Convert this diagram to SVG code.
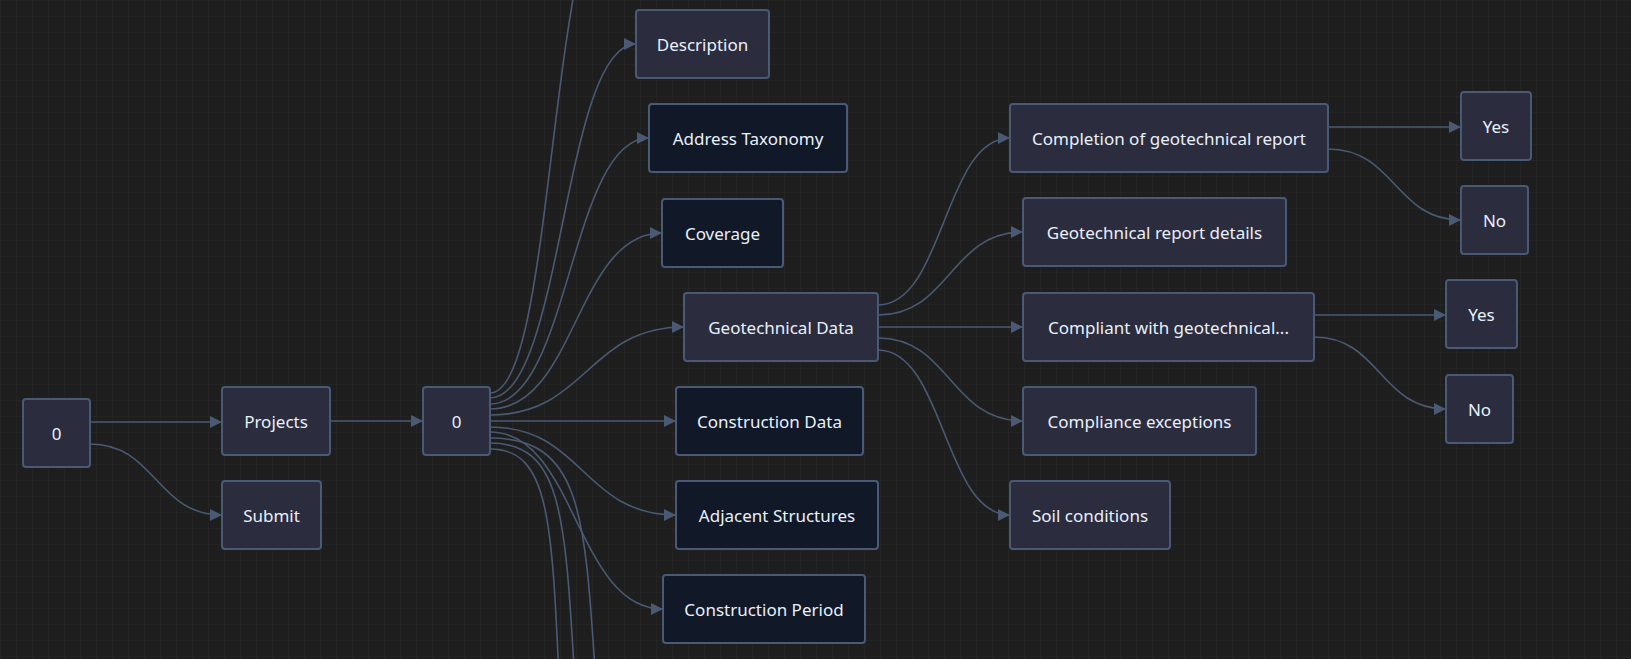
<svg xmlns="http://www.w3.org/2000/svg" width="1631" height="659" viewBox="0 0 1631 659">
<defs>
<pattern id="grid" width="16" height="16" patternUnits="userSpaceOnUse"><path d="M16 0H0V16" fill="none" stroke="#282828" stroke-width="1"/></pattern>
<marker id="arr" viewBox="0 0 12 12" refX="12" refY="6" markerWidth="12" markerHeight="12" markerUnits="userSpaceOnUse" orient="auto"><path d="M0 0L12 6L0 12z" fill="#4a5a74"/></marker>
<style>
.n rect{fill:#2b2c3e;stroke:#4a5a74;stroke-width:2}
.d rect{fill:#111827}
.n text{fill:#e8f0fb;font-family:"Noto Sans","Open Sans",sans-serif;font-size:17px;text-anchor:middle;dominant-baseline:central}
#edges path{fill:none;stroke:#4a5a74;stroke-width:1.6;marker-end:url(#arr)}
#edges path.o{marker-end:none}
</style>
</defs>
<rect width="1631" height="659" fill="#1e1e1e"/>
<rect width="1631" height="659" fill="url(#grid)"/>
<g id="edges">
<path d="M90,422 H222"/>
<path d="M90,444 C156,444 156,515 222,515"/>
<path d="M330,421 H423"/>
<path class="o" d="M490,393 C560,393 545,-150 640,-150"/>
<path d="M490,398 C563,398 563,44 636,44"/>
<path d="M490,404 C570,404 570,138 649,138"/>
<path d="M490,409 C576,409 576,233 662,233"/>
<path d="M490,415 C587,415 587,327 684,327"/>
<path d="M490,421 H676"/>
<path d="M490,427 C583,427 583,515 676,515"/>
<path d="M490,432 C576,432 576,609 663,609"/>
<path class="o" d="M490,438 C585,438 585,520 597,700"/>
<path class="o" d="M490,443 C565,443 565,520 576,700"/>
<path class="o" d="M490,449 C550,449 552,520 560,700"/>
<path d="M878,305 C944,305 944,138 1010,138"/>
<path d="M878,315 C950,315 950,232 1023,232"/>
<path d="M878,327 H1023"/>
<path d="M878,338 C950,338 950,421 1023,421"/>
<path d="M878,350 C944,350 944,515 1010,515"/>
<path d="M1328,127 H1461"/>
<path d="M1328,149 C1395,149 1395,220 1461,220"/>
<path d="M1314,315 H1446"/>
<path d="M1314,337 C1380,337 1380,409 1446,409"/>
</g>
<g id="n-root" class="n"><rect x="23" y="399" width="67" height="68" rx="3"/><text x="56.5" y="433">0</text></g>
<g id="n-projects" class="n"><rect x="222" y="387" width="108" height="68" rx="3"/><text x="276" y="421">Projects</text></g>
<g id="n-submit" class="n"><rect x="222" y="481" width="99" height="68" rx="3"/><text x="271.5" y="515">Submit</text></g>
<g id="n-zero" class="n"><rect x="423" y="387" width="67" height="68" rx="3"/><text x="456.5" y="421">0</text></g>
<g id="n-description" class="n"><rect x="636" y="10" width="133" height="68" rx="3"/><text x="702.5" y="44">Description</text></g>
<g id="n-address" class="n d"><rect x="649" y="104" width="198" height="68" rx="3"/><text x="748" y="138">Address Taxonomy</text></g>
<g id="n-coverage" class="n d"><rect x="662" y="199" width="121" height="68" rx="3"/><text x="722.5" y="233">Coverage</text></g>
<g id="n-geotech" class="n"><rect x="684" y="293" width="194" height="68" rx="3"/><text x="781" y="327">Geotechnical Data</text></g>
<g id="n-construction" class="n d"><rect x="676" y="387" width="187" height="68" rx="3"/><text x="769.5" y="421">Construction Data</text></g>
<g id="n-adjacent" class="n d"><rect x="676" y="481" width="202" height="68" rx="3"/><text x="777" y="515">Adjacent Structures</text></g>
<g id="n-period" class="n d"><rect x="663" y="575" width="202" height="68" rx="3"/><text x="764" y="609">Construction Period</text></g>
<g id="n-completion" class="n"><rect x="1010" y="104" width="318" height="68" rx="3"/><text x="1169" y="138">Completion of geotechnical report</text></g>
<g id="n-details" class="n"><rect x="1023" y="198" width="263" height="68" rx="3"/><text x="1154.5" y="232">Geotechnical report details</text></g>
<g id="n-compliant" class="n"><rect x="1023" y="293" width="291" height="68" rx="3"/><text x="1168.5" y="327">Compliant with geotechnical...</text></g>
<g id="n-exceptions" class="n"><rect x="1023" y="387" width="233" height="68" rx="3"/><text x="1139.5" y="421">Compliance exceptions</text></g>
<g id="n-soil" class="n"><rect x="1010" y="481" width="160" height="68" rx="3"/><text x="1090" y="515">Soil conditions</text></g>
<g id="n-yes1" class="n"><rect x="1461" y="92" width="70" height="68" rx="3"/><text x="1496" y="126">Yes</text></g>
<g id="n-no1" class="n"><rect x="1461" y="186" width="67" height="68" rx="3"/><text x="1494.5" y="220">No</text></g>
<g id="n-yes2" class="n"><rect x="1446" y="280" width="71" height="68" rx="3"/><text x="1481.5" y="314">Yes</text></g>
<g id="n-no2" class="n"><rect x="1446" y="375" width="67" height="68" rx="3"/><text x="1479.5" y="409">No</text></g>
</svg>
